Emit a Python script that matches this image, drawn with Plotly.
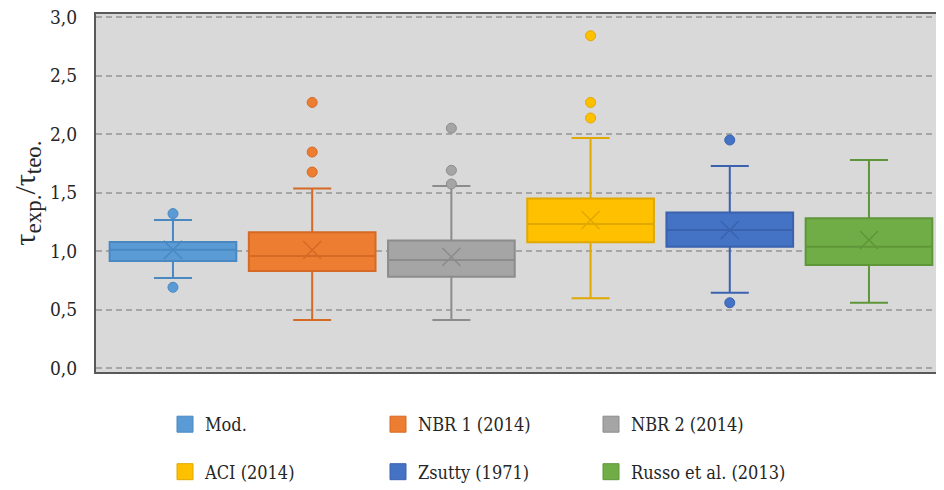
import plotly.graph_objects as go

categories = ["Mod.", "NBR 1 (2014)", "NBR 2 (2014)", "ACI (2014)", "Zsutty (1971)", "Russo et al. (2013)"]
q1 = [0.915, 0.83, 0.78, 1.074, 1.037, 0.88]
median = [1.01, 0.957, 0.923, 1.23, 1.18, 1.037]
q3 = [1.077, 1.16, 1.09, 1.45, 1.33, 1.28]
lower_whisker = [0.77, 0.41, 0.41, 0.596, 0.644, 0.558]
upper_whisker = [1.265, 1.535, 1.556, 1.966, 1.726, 1.778]
means = [1.01, 1.008, 0.95, 1.265, 1.18, 1.094]
outliers = [
    [1.32, 0.69],
    [2.27, 1.846, 1.675],
    [2.05, 1.69, 1.573],
    [2.84, 2.27, 2.137],
    [1.949, 0.558],
    [],
]
y_ticks = [0.0, 0.5, 1.0, 1.5, 2.0, 2.5, 3.0]

fill_colors = ["#5B9BD5", "#ED7D31", "#A5A5A5", "#FFC000", "#4472C4", "#70AD47"]
line_colors = ["#4A88C2", "#D46A26", "#8C8C8C", "#E0A800", "#3A62AE", "#5E9639"]

FONT = "DejaVu Serif Condensed, DejaVu Serif"
FONT_TITLE = "serif"
# the page body has an 8px margin; size the figure to fit the 944x490 window
W, H = 936, 482
OFF = 8

fig = go.Figure()

for i, cat in enumerate(categories):
    fig.add_trace(go.Box(
        x=[cat], q1=[q1[i]], median=[median[i]], q3=[q3[i]],
        lowerfence=[lower_whisker[i]], upperfence=[upper_whisker[i]],
        fillcolor=fill_colors[i], line=dict(color=line_colors[i], width=2),
        width=0.91, whiskerwidth=0.3, boxpoints=False, showlegend=False,
        hoverinfo="skip",
    ))

for i, cat in enumerate(categories):
    if outliers[i]:
        fig.add_trace(go.Scatter(
            x=[cat] * len(outliers[i]), y=outliers[i], mode="markers",
            marker=dict(size=10, color=fill_colors[i], line=dict(color=line_colors[i], width=1)),
            showlegend=False, hoverinfo="skip",
        ))
    fig.add_trace(go.Scatter(
        x=[cat], y=[means[i]], mode="markers",
        marker=dict(symbol="x-thin-open", size=18, color=line_colors[i],
                    line=dict(color=line_colors[i], width=1.5)),
        showlegend=False, hoverinfo="skip",
    ))

for i, cat in enumerate(categories):
    fig.add_trace(go.Scatter(
        x=[None], y=[None], mode="markers", name=cat,
        marker=dict(symbol="square", size=18, color=fill_colors[i],
                    line=dict(color=line_colors[i], width=1)),
        legend="legend" if i < 3 else "legend2",
    ))

legend_common = dict(
    orientation="h", xref="container", yref="container",
    xanchor="left", yanchor="middle",
    entrywidth=168, entrywidthmode="pixels",
    font=dict(family=FONT, size=18, color="#262626"),
    bgcolor="rgba(0,0,0,0)", itemclick=False, itemdoubleclick=False,
)

fig.update_layout(
    width=W, height=H,
    margin=dict(l=96 - OFF, r=0, t=14 - OFF, b=118, autoexpand=False),
    paper_bgcolor="white", plot_bgcolor="#D9D9D9",
    separators=",.",
    boxmode="overlay",
    font=dict(family=FONT, color="#262626"),
    legend=dict(x=(165 - OFF) / W, y=1 - (424.5 - OFF) / H, **legend_common),
    legend2=dict(x=(165 - OFF) / W, y=1 - (472 - OFF) / H, **legend_common),
    xaxis=dict(
        type="category", categoryorder="array", categoryarray=categories,
        range=[-0.553, 5.539], showticklabels=False, ticks="",
        showgrid=False, zeroline=False, automargin=False,
        showline=True, linecolor="#595959", linewidth=2, mirror=True,
    ),
    yaxis=dict(
        range=[-0.034, 3.026], tickvals=y_ticks, tickformat=".1f",
        tickfont=dict(family=FONT, size=19, color="#262626"),
        ticklabelstandoff=13, ticklabeloverflow="allow", automargin=False,
        showgrid=True, gridcolor="#A6A6A6", gridwidth=1.5, griddash="6px,4px",
        zeroline=False,
        showline=True, linecolor="#595959", linewidth=2, mirror=True,
        title=dict(
            text='τ<sub><span style="font-size:23px">exp.</span></sub>/τ<sub><span style="font-size:23px">teo.</span></sub>',
            font=dict(family=FONT_TITLE, size=30, color="#262626"), standoff=16),
    ),
)

fig.write_html("out.html")
